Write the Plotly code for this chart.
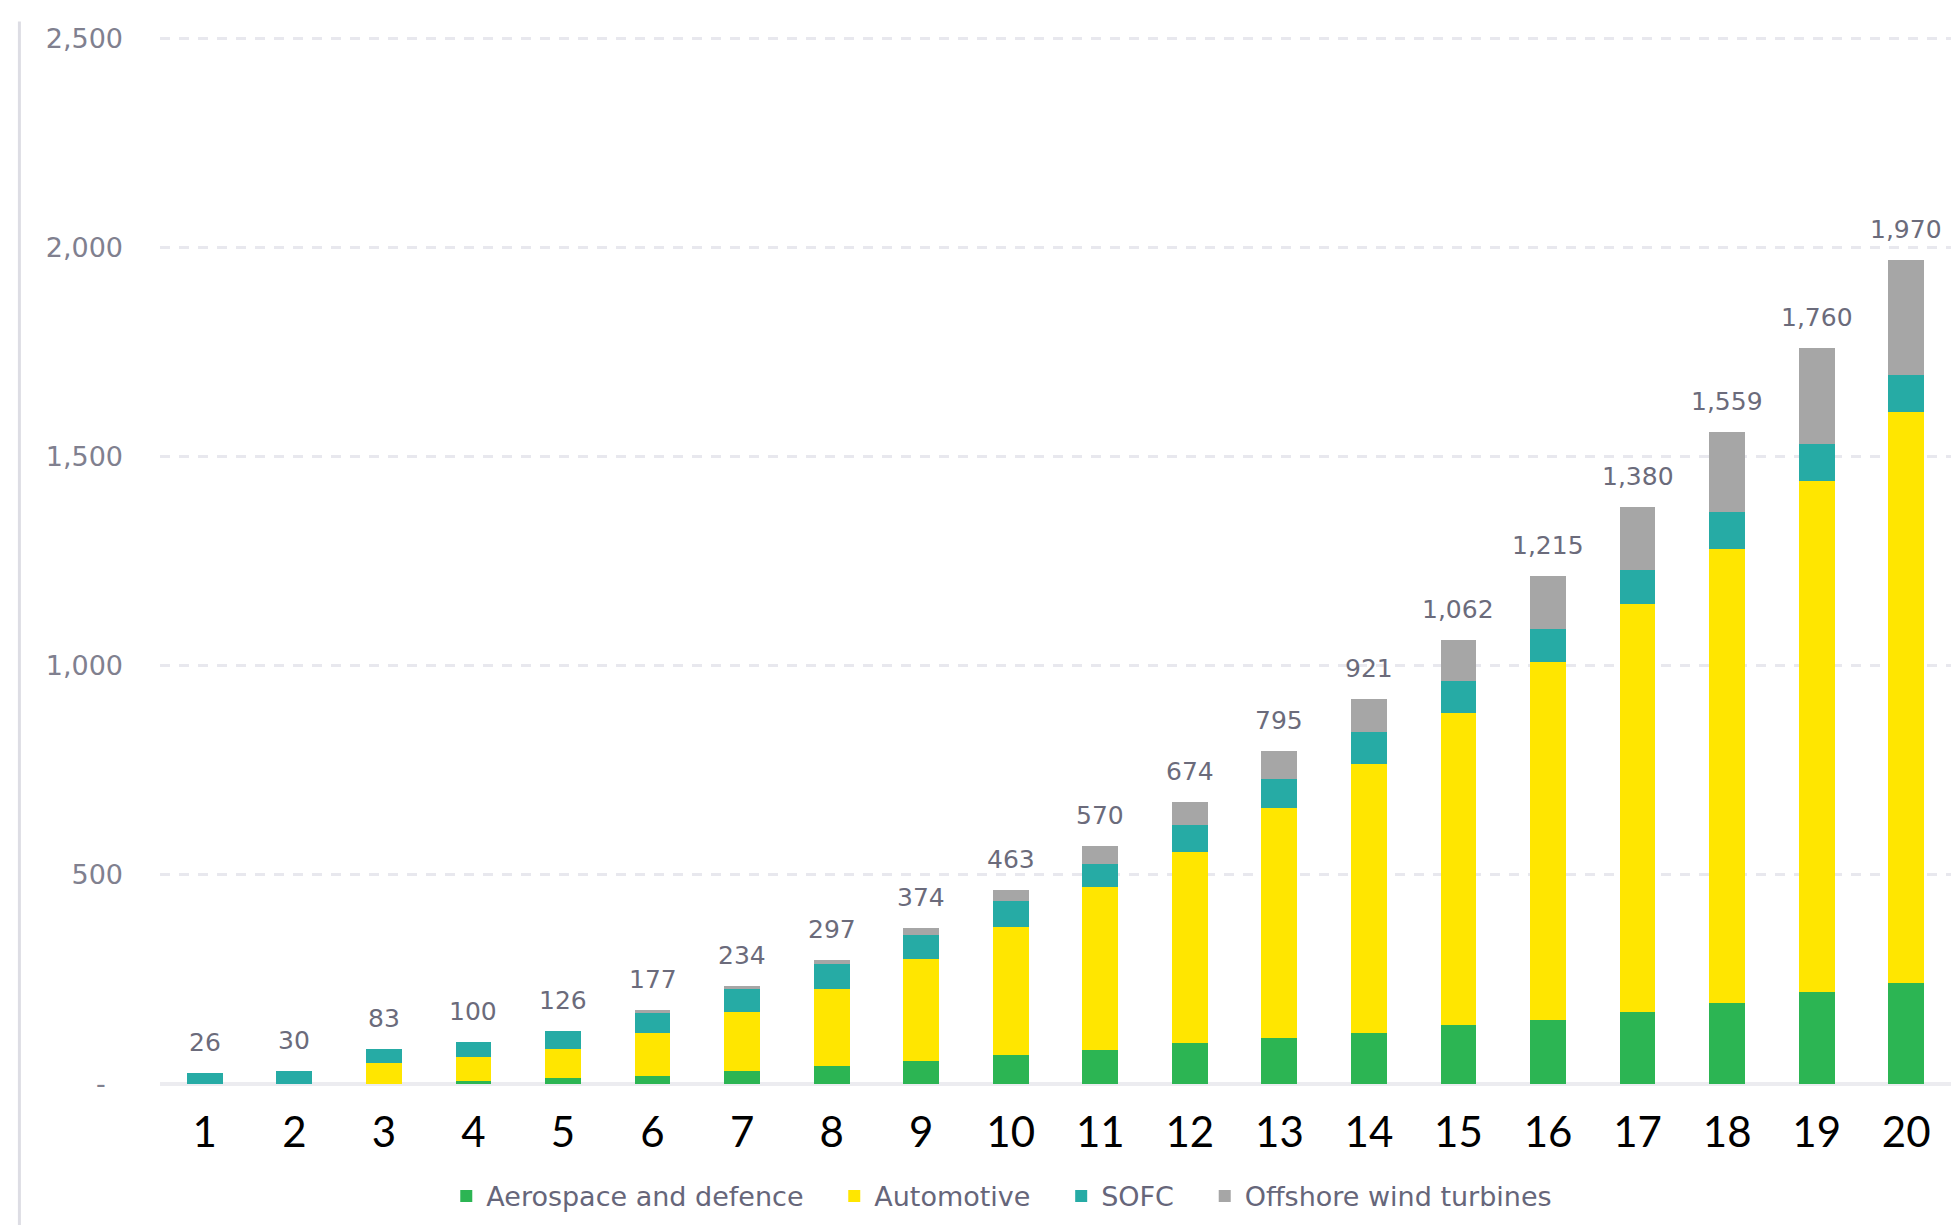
import plotly.graph_objects as go

# ---- data ----
categories = [str(i) for i in range(1, 21)]
aerospace = [0, 0, 0, 6, 14, 20, 30, 44, 54, 69, 81, 97, 109, 123, 142, 153, 173, 194, 221, 241]
automotive = [0, 0, 50, 58, 69, 103, 143, 184, 246, 307, 389, 458, 550, 641, 744, 856, 975, 1085, 1221, 1366]
sofc = [26, 30, 33, 36, 43, 47, 53, 58, 56, 62, 56, 65, 71, 77, 78, 78, 81, 89, 88, 88]
offshore = [0, 0, 0, 0, 0, 7, 8, 11, 18, 25, 44, 54, 65, 80, 98, 128, 151, 191, 230, 275]
totals = [26, 30, 83, 100, 126, 177, 234, 297, 374, 463, 570, 674, 795, 921, 1062, 1215, 1380, 1559, 1760, 1970]

series_names = ["Aerospace and defence", "Automotive", "SOFC", "Offshore wind turbines"]
series_values = [aerospace, automotive, sofc, offshore]
series_colors = ["#2cb553", "#ffe600", "#26aba5", "#a6a6a6"]

y_tick_values = [0, 500, 1000, 1500, 2000, 2500]
y_tick_labels = ["-\u00a0\u00a0", "500", "1,000", "1,500", "2,000", "2,500"]

NBSP = "\u00a0"

# ---- figure ----
fig = go.Figure()
for k, (name, vals, col) in enumerate(zip(series_names, series_values, series_colors)):
    pad = NBSP * 3 if k < len(series_names) - 1 else ""
    fig.add_trace(go.Bar(
        x=categories, y=vals, name=name + pad,
        marker=dict(color=col, line=dict(width=0)),
        hovertemplate=name + ": %{y}<extra></extra>",
    ))

# total labels above each stack (category index positions on the category axis)
for idx, tot in enumerate(totals):
    fig.add_annotation(
        x=idx, y=tot, text=f"{tot:,}", showarrow=False,
        yanchor="bottom", yshift=14,
        font=dict(family="DejaVu Sans", size=25, color="#6b6b7b"),
    )

# thin light border line at the far left of the picture
fig.add_shape(type="line", xref="paper", yref="paper",
              x0=-0.0785, x1=-0.0785, y0=-0.2, y1=1.012,
              line=dict(color="#dddde4", width=3))

fig.update_layout(
    width=1951, height=1225,
    margin=dict(l=160, r=0, t=34, b=141, autoexpand=False),
    paper_bgcolor="white", plot_bgcolor="white",
    barmode="stack", bargap=0.6,
    showlegend=True,
    legend=dict(
        orientation="h", x=0.470, xanchor="center", y=-0.107, yanchor="middle",
        font=dict(family="DejaVu Sans", size=27, color="#66667a"),
        traceorder="normal", itemwidth=30,
    ),
    xaxis=dict(
        type="category", range=[-0.5, 19.5], automargin=False,
        showgrid=False, showline=False, ticks="",
        tickfont=dict(family="Lato", size=42, color="black"),
        ticklabelstandoff=20,
    ),
    yaxis=dict(
        range=[0, 2510], automargin=False,
        tickvals=y_tick_values, ticktext=y_tick_labels,
        showgrid=True, gridcolor="#e8e8ee", gridwidth=2.5, griddash="10px,9px",
        zeroline=True, zerolinecolor="#ececf0", zerolinewidth=4,
        showline=False, ticks="",
        tickfont=dict(family="DejaVu Sans", size=27, color="#80808f"),
        ticklabelstandoff=36,
    ),
)

fig.write_html(
    "out.html",
    config={"displayModeBar": False},
    post_script="document.body.style.margin='0px';document.body.style.overflow='hidden';",
)
